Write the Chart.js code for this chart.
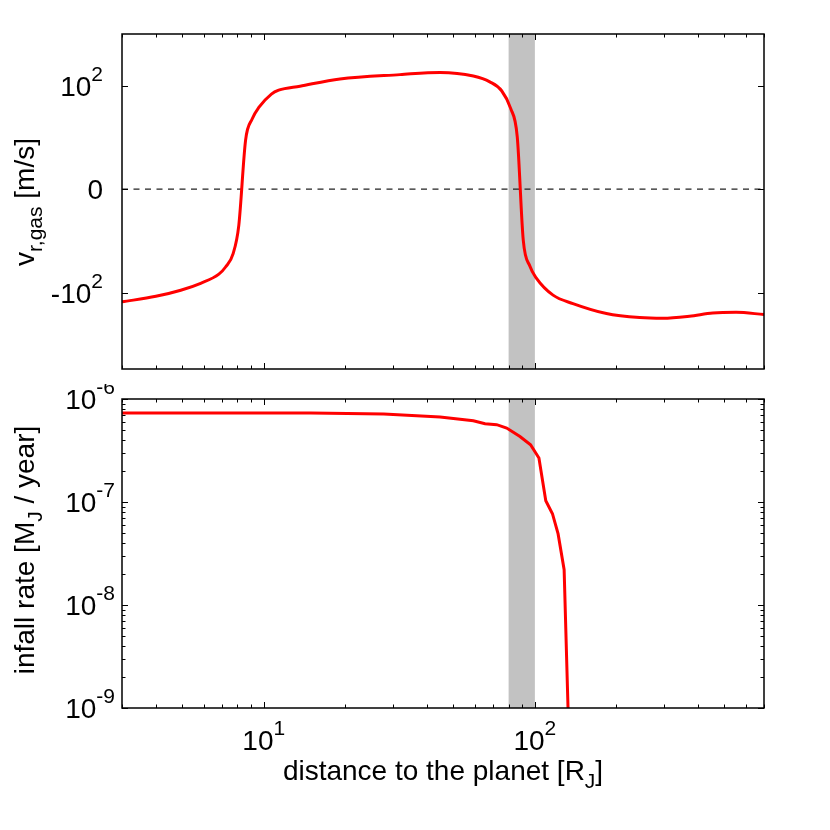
<!DOCTYPE html>
<html>
<head>
<meta charset="utf-8">
<title>gas velocity and infall rate</title>
<script src="https://cdn.jsdelivr.net/npm/chart.js@4.4.1/dist/chart.umd.min.js"></script>
<style>
  body { margin: 0; background: #fff; }
  .figure { position: relative; width: 830px; height: 830px; }
  .figure canvas { position: absolute; left: 0; }
  #top { top: 0; }
  #bottom { top: 384px; }
</style>
</head>
<body>
<div class="figure">
  <canvas id="top" width="830" height="384"></canvas>
  <canvas id="bottom" width="830" height="446"></canvas>
</div>
<script>
"use strict";

// distance to the planet [R_J]
const xMin = 3;
const xMax = 700;

// radial gas velocity [m/s] (top panel)
const velocityX = [3, 4.0, 4.94, 5.85, 6.83, 7.23, 7.71, 8.09, 8.57, 9.07, 9.59, 10.67, 11.35, 13.6, 19.1, 31.8, 44.7, 59.3, 68.2, 75.4, 81.4, 86.1, 90.6, 95.9, 101.4, 116.7, 138.2, 183.6, 243.4, 296.5, 371.7, 453, 552, 700];
const velocity = [-150, -117, -89, -65, -43, -31, -16.6, -4, 7.9, 22, 37, 68, 81, 97, 134, 163, 180, 153, 118, 79, 35.5, 9.3, -8.7, -30, -52, -111, -162, -253, -303, -313, -286, -247, -239, -265];
const velocityMin = -3000;
const velocityMax = 1000;

// infall rate [M_J / year] (bottom panel)
const infallX = [3, 14.9, 27.7, 44.7, 59.3, 65.5, 72.3, 78.7, 88.1, 96.4, 103.5, 109.7, 116.1, 121.8, 128.2, 133.5];
const infallRate = [7.31e-7, 7.31e-7, 7.15e-7, 6.69e-7, 6.15e-7, 5.75e-7, 5.63e-7, 5.23e-7, 4.33e-7, 3.6e-7, 2.67e-7, 1.03e-7, 7.7e-8, 4.9e-8, 2.2e-8, 5e-10];
const infallMin = 1e-9;
const infallMax = 1e-6;

// shaded region
const bandFrom = 80;
const bandTo = 100;

// ticks and labels
const xMajorTicks = [10, 100];
const xMinorTicks = [3, 4, 5, 6, 7, 8, 9, 20, 30, 40, 50, 60, 70, 80, 90, 200, 300, 400, 500, 600, 700];
const xTickLabels = ["10^{1}", "10^{2}"];
const velocityTicks = [100, 0, -100];
const velocityTickLabels = ["10^{2}", "0", "-10^{2}"];
const infallTicks = [1e-6, 1e-7, 1e-8, 1e-9];
const infallTickLabels = ["10^{-6}", "10^{-7}", "10^{-8}", "10^{-9}"];
const infallMinorTicks = [2e-9, 3e-9, 4e-9, 5e-9, 6e-9, 7e-9, 8e-9, 9e-9,
  2e-8, 3e-8, 4e-8, 5e-8, 6e-8, 7e-8, 8e-8, 9e-8,
  2e-7, 3e-7, 4e-7, 5e-7, 6e-7, 7e-7, 8e-7, 9e-7];

const FAMILY = '"Liberation Sans", Arial, Helvetica, sans-serif';
const MAIN_FONT = "28px " + FAMILY;
const SCRIPT_FONT = "21px " + FAMILY;

// symmetric log axis: sign(v) * log10(1 + |v|)
const symlog = (v) => Math.sign(v) * Math.log10(1 + Math.abs(v));
class SymlogScale extends Chart.LinearScale {
  configure() {
    super.configure();
    this._startValue = symlog(this.min);
    this._valueRange = symlog(this.max) - symlog(this.min);
  }
  getPixelForValue(value) {
    return this.getPixelForDecimal((symlog(value) - this._startValue) / this._valueRange);
  }
  getValueForPixel(pixel) {
    const t = this._startValue + this.getDecimalForPixel(pixel) * this._valueRange;
    return Math.sign(t) * (Math.pow(10, Math.abs(t)) - 1);
  }
}
SymlogScale.id = "symlog";
SymlogScale.defaults = {};
Chart.register(SymlogScale);

function parseRich(str) {
  const parts = [];
  const re = /([_^])\{([^}]*)\}/g;
  let last = 0, m;
  while ((m = re.exec(str))) {
    if (m.index > last) parts.push({ text: str.slice(last, m.index), mode: 0 });
    parts.push({ text: m[2], mode: m[1] === "^" ? 1 : -1 });
    last = re.lastIndex;
  }
  if (last < str.length) parts.push({ text: str.slice(last), mode: 0 });
  return parts;
}

function drawRich(ctx, str, x, y, align) {
  const parts = parseRich(str);
  let w = 0;
  parts.forEach((p) => {
    ctx.font = p.mode ? SCRIPT_FONT : MAIN_FONT;
    p.w = ctx.measureText(p.text).width;
    w += p.w;
  });
  let cx = align === "right" ? x - w : align === "center" ? x - w / 2 : x;
  ctx.textAlign = "left";
  ctx.textBaseline = "alphabetic";
  parts.forEach((p) => {
    ctx.font = p.mode ? SCRIPT_FONT : MAIN_FONT;
    const dy = p.mode === 1 ? -15 : p.mode === -1 ? 8 : 0;
    ctx.fillText(p.text, cx, y + dy);
    cx += p.w;
  });
}

const bandPlugin = {
  id: "band",
  beforeDatasetsDraw(chart) {
    const { ctx, chartArea: a, scales } = chart;
    const x0 = scales.x.getPixelForValue(bandFrom);
    const x1 = scales.x.getPixelForValue(bandTo);
    ctx.save();
    ctx.fillStyle = "#c2c2c2";
    ctx.fillRect(x0, a.top, x1 - x0, a.bottom - a.top);
    ctx.restore();
  },
};

function framePlugin(cfg) {
  return {
    id: "frame",
    afterDraw(chart) {
      const { ctx, chartArea: a, scales } = chart;
      const xs = scales.x, ys = scales.y;
      ctx.save();
      ctx.strokeStyle = "#000";
      ctx.fillStyle = "#000";
      ctx.lineWidth = 1;

      // ticks point inwards, mirrored on the opposite side
      const xTicks = [[xMajorTicks, 6], [xMinorTicks, 3.5]];
      xTicks.forEach(([vals, len]) => {
        vals.forEach((v) => {
          const px = Math.round(xs.getPixelForValue(v)) + 0.5;
          ctx.beginPath();
          ctx.moveTo(px, a.bottom);
          ctx.lineTo(px, a.bottom - len);
          ctx.moveTo(px, a.top);
          ctx.lineTo(px, a.top + len);
          ctx.stroke();
        });
      });
      const yTicks = [[cfg.yTicks, 6], [cfg.yMinor || [], 3.5]];
      yTicks.forEach(([vals, len]) => {
        vals.forEach((v) => {
          const py = Math.round(ys.getPixelForValue(v)) + 0.5;
          ctx.beginPath();
          ctx.moveTo(a.left, py);
          ctx.lineTo(a.left + len, py);
          ctx.moveTo(a.right, py);
          ctx.lineTo(a.right - len, py);
          ctx.stroke();
        });
      });

      ctx.lineWidth = 1.5;
      ctx.strokeRect(a.left, a.top, a.right - a.left, a.bottom - a.top);

      // tick labels
      cfg.yTicks.forEach((v, i) => {
        drawRich(ctx, cfg.yLabels[i], cfg.yLabelRight, ys.getPixelForValue(v) + 10, "right");
      });
      if (cfg.xLabelY) {
        xMajorTicks.forEach((v, i) => {
          drawRich(ctx, xTickLabels[i], xs.getPixelForValue(v), cfg.xLabelY, "center");
        });
        drawRich(ctx, cfg.xTitle, (a.left + a.right) / 2, cfg.xTitleY, "center");
      }

      // rotated y title
      ctx.translate(34, cfg.yTitleCenter);
      ctx.rotate(-Math.PI / 2);
      drawRich(ctx, cfg.yTitle, 0, 0, "center");
      ctx.restore();
    },
  };
}

const hiddenAxis = { display: false };

new Chart(document.getElementById("top"), {
  type: "line",
  data: {
    datasets: [
      {
        label: "v_r,gas",
        data: velocityX.map((x, i) => ({ x, y: velocity[i] })),
        borderColor: "#ff0000",
        borderWidth: 3,
        pointRadius: 0,
        cubicInterpolationMode: "monotone",
        clip: 0,
      },
      {
        label: "zero",
        data: [{ x: xMin, y: 0 }, { x: xMax, y: 0 }],
        borderColor: "#222",
        borderWidth: 1.3,
        borderDash: [6, 5.5],
        pointRadius: 0,
        clip: 0,
      },
    ],
  },
  options: {
    responsive: false,
    animation: false,
    events: [],
    layout: { padding: { left: 122, right: 66, top: 34, bottom: 15 } },
    plugins: { legend: { display: false }, tooltip: { enabled: false } },
    scales: {
      x: { type: "logarithmic", min: xMin, max: xMax, ...hiddenAxis },
      y: { type: "symlog", min: velocityMin, max: velocityMax, ...hiddenAxis },
    },
  },
  plugins: [
    bandPlugin,
    framePlugin({
      yTicks: velocityTicks,
      yLabels: velocityTickLabels,
      yLabelRight: 103,
      yTitle: "v_{r,gas} [m/s]",
      yTitleCenter: 202,
    }),
  ],
});

new Chart(document.getElementById("bottom"), {
  type: "line",
  data: {
    datasets: [
      {
        label: "infall rate",
        data: infallX.map((x, i) => ({ x, y: infallRate[i] })),
        borderColor: "#ff0000",
        borderWidth: 3,
        pointRadius: 0,
        tension: 0,
        clip: 0,
      },
    ],
  },
  options: {
    responsive: false,
    animation: false,
    events: [],
    layout: { padding: { left: 122, right: 66, top: 15, bottom: 122 } },
    plugins: { legend: { display: false }, tooltip: { enabled: false } },
    scales: {
      x: { type: "logarithmic", min: xMin, max: xMax, ...hiddenAxis },
      y: { type: "logarithmic", min: infallMin, max: infallMax, ...hiddenAxis },
    },
  },
  plugins: [
    bandPlugin,
    framePlugin({
      yTicks: infallTicks,
      yMinor: infallMinorTicks,
      yLabels: infallTickLabels,
      yLabelRight: 115,
      yTitle: "infall rate [M_{J} / year]",
      yTitleCenter: 166,
      xLabelY: 366,
      xTitle: "distance to the planet [R_{J}]",
      xTitleY: 396,
    }),
  ],
});
</script>
</body>
</html>
